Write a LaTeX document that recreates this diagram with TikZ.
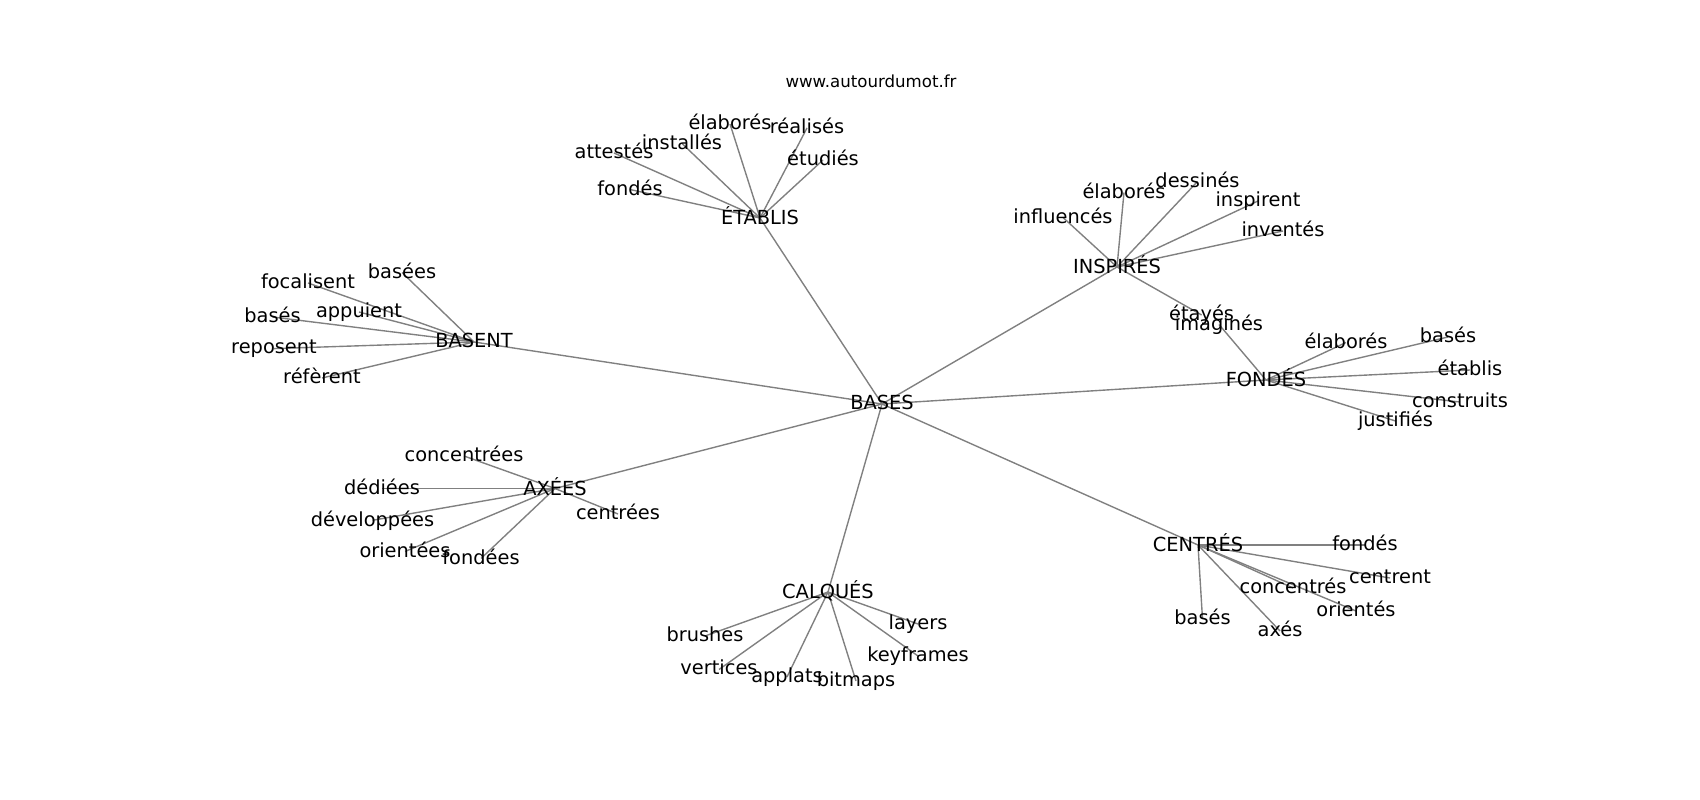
\documentclass[tikz,border=0pt]{standalone}
\usepackage{fontspec}
\setmainfont{DejaVu Sans}
\usetikzlibrary{backgrounds}
\tikzset{
  lbl/.style={inner sep=0pt, outer sep=0pt, anchor=center, font=\fontsize{14}{16}\selectfont, execute at begin node={\vphantom{lp}}},
  ttl/.style={inner sep=0pt, anchor=base, font=\fontsize{12}{14}\selectfont},
  edge/.style={draw=black!50, line width=1pt}
}
\begin{document}
\begin{tikzpicture}[x=0.01in, y=-0.01in]
\useasboundingbox (0,0) rectangle (1700,800);
\node[ttl] (title) at (871,88) {www.autourdumot.fr};
% hub
\node[lbl] (b) at (882,404) {BASES};
% ETABLIS
\node[lbl] (et) at (760,218) {ÉTABLIS};
\node[lbl] (et1) at (614,153) {attestés};
\node[lbl] (et2) at (682,143.5) {installés};
\node[lbl] (et3) at (730,124) {élaborés};
\node[lbl] (et4) at (807,128) {réalisés};
\node[lbl] (et5) at (823,160) {étudiés};
\node[lbl] (et6) at (630,189.5) {fondés};
% INSPIRES
\node[lbl] (in) at (1117,267) {INSPIRÉS};
\node[lbl] (in1) at (1063,217.5) {influencés};
\node[lbl] (in2) at (1124,192.5) {élaborés};
\node[lbl] (in3) at (1197.5,181.5) {dessinés};
\node[lbl] (in4) at (1258,201) {inspirent};
\node[lbl] (in5) at (1283,231) {inventés};
\node[lbl] (in6) at (1201.6,315) {étayés};
% FONDES
\node[lbl] (fo) at (1266,380) {FONDÉS};
\node[lbl] (fo1) at (1219,324.5) {imaginés};
\node[lbl] (fo2) at (1346,342.5) {élaborés};
\node[lbl] (fo3) at (1448,337) {basés};
\node[lbl] (fo4) at (1470,370) {établis};
\node[lbl] (fo5) at (1460,402) {construits};
\node[lbl] (fo6) at (1395.5,421) {justifiés};
% CENTRES
\node[lbl] (ce) at (1198,545) {CENTRÉS};
\node[lbl] (ce1) at (1365,545) {fondés};
\node[lbl] (ce2) at (1390,578) {centrent};
\node[lbl] (ce3) at (1293,588) {concentrés};
\node[lbl] (ce4) at (1356,611) {orientés};
\node[lbl] (ce5) at (1202.5,619) {basés};
\node[lbl] (ce6) at (1280,631) {axés};
% CALQUES
\node[lbl] (ca) at (828,592) {CALQUÉS};
\node[lbl] (ca1) at (705,636) {brushes};
\node[lbl] (ca2) at (719,669.5) {vertices};
\node[lbl] (ca3) at (787,677) {applats};
\node[lbl] (ca4) at (856,681) {bitmaps};
\node[lbl] (ca5) at (918,624) {layers};
\node[lbl] (ca6) at (918,656) {keyframes};
% AXEES
\node[lbl] (ax) at (555,488.5) {AXÉES};
\node[lbl] (ax1) at (464,456) {concentrées};
\node[lbl] (ax2) at (382,488.5) {dédiées};
\node[lbl] (ax3) at (372.5,520.3) {développées};
\node[lbl] (ax4) at (405,551.5) {orientées};
\node[lbl] (ax5) at (481,558.5) {fondées};
\node[lbl] (ax6) at (618,514) {centrées};
% BASENT
\node[lbl] (bs) at (474,342) {BASENT};
\node[lbl] (bs1) at (402,272.5) {basées};
\node[lbl] (bs2) at (308,283) {focalisent};
\node[lbl] (bs3) at (359,312) {appuient};
\node[lbl] (bs4) at (272.5,317) {basés};
\node[lbl] (bs5) at (274,348.6) {reposent};
\node[lbl] (bs6) at (322,378) {réfèrent};
\begin{pgfonlayer}{background}
\fill[white] (0,0) rectangle (1700,800);
\foreach \h in {et,in,fo,ce,ca,ax,bs} {\draw[edge] (b.center) -- (\h.center);}
\foreach \i in {1,...,6} {
  \draw[edge] (et.center) -- (et\i.center);
  \draw[edge] (in.center) -- (in\i.center);
  \draw[edge] (fo.center) -- (fo\i.center);
  \draw[edge] (ce.center) -- (ce\i.center);
  \draw[edge] (ca.center) -- (ca\i.center);
  \draw[edge] (ax.center) -- (ax\i.center);
  \draw[edge] (bs.center) -- (bs\i.center);
}
\end{pgfonlayer}
\end{tikzpicture}
\end{document}
